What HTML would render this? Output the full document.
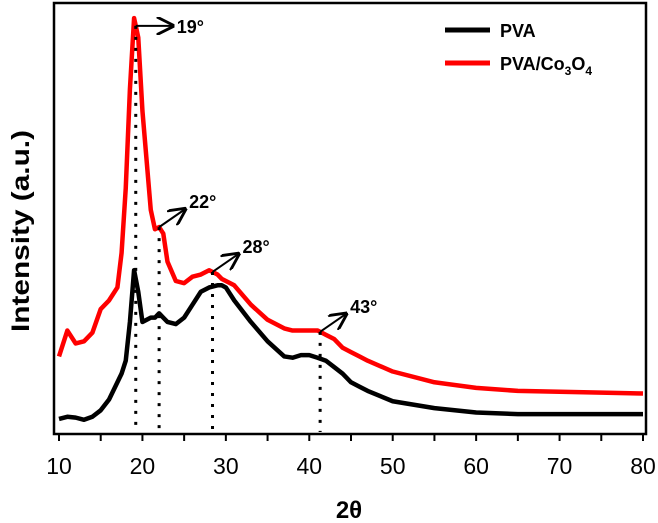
<!DOCTYPE html>
<html><head><meta charset="utf-8"><style>
body{margin:0;background:#fff}
svg{display:block;font-family:"Liberation Sans",sans-serif}
</style></head><body>
<svg id="chart" width="658" height="523" viewBox="0 0 658 523">
<defs><marker id="ah" viewBox="0 0 10 10" refX="9" refY="5" markerWidth="9" markerHeight="9" orient="auto"><path d="M0,0 L10,5 L0,10" fill="none" stroke="#000" stroke-width="1.6"/></marker></defs>
<g id="plot"></g>
<rect x="54" y="3" width="592" height="431" fill="none" stroke="#000" stroke-width="2.5"/>
<g id="xaxis"></g>
<text x="349" y="518" text-anchor="middle" font-size="24" font-weight="bold">2θ</text>
<text transform="translate(29,231) rotate(-90)" text-anchor="middle" font-size="25" font-weight="bold" textLength="202" lengthAdjust="spacingAndGlyphs">Intensity (a.u.)</text>
<g>
<line x1="445" y1="30" x2="490" y2="30" stroke="#000" stroke-width="5"/>
<text x="500" y="37" font-size="18" font-weight="bold">PVA</text>
<line x1="445" y1="63" x2="490" y2="63" stroke="#f00" stroke-width="5"/>
<text x="500" y="70" font-size="18" font-weight="bold">PVA/Co<tspan font-size="12" dy="5">3</tspan><tspan dy="-5">O</tspan><tspan font-size="12" dy="5">4</tspan></text>
</g>
</svg>
<script>
const xs = [10,11,12,13,14,15,16,17,17.5,18,18.5,19,19.5,20,21,21.5,22,22.5,23,24,25,26,27,28,29,29.5,30,31,33,35,37,38,39,40,41,42,43,44,45,46,47,50,55,60,65,70,75,80];
const pva = [0.035,0.04,0.038,0.033,0.04,0.055,0.08,0.12,0.14,0.17,0.26,0.38,0.33,0.26,0.27,0.27,0.28,0.27,0.26,0.255,0.27,0.3,0.33,0.34,0.345,0.345,0.34,0.31,0.26,0.215,0.18,0.177,0.183,0.183,0.177,0.17,0.155,0.14,0.12,0.11,0.1,0.076,0.06,0.05,0.046,0.046,0.046,0.046];
const pvaCo = [0.18,0.24,0.21,0.215,0.235,0.29,0.31,0.34,0.42,0.57,0.8,0.965,0.92,0.75,0.52,0.475,0.48,0.465,0.4,0.355,0.35,0.365,0.37,0.38,0.37,0.36,0.355,0.345,0.3,0.265,0.245,0.24,0.24,0.24,0.24,0.23,0.22,0.2,0.19,0.18,0.17,0.145,0.12,0.107,0.1,0.098,0.096,0.094];
const peaks = [19.2,22,28.4,41.3];
const peakLabels = ["19°","22°","28°","43°"];
const xTicks = [10,20,30,40,50,60,70,80];
const NS="http://www.w3.org/2000/svg";
const X = v => 59 + (v-10)*(643-59)/70;
const Y = v => 434 - v*431;
function interp(arr,x){for(let i=0;i<xs.length-1;i++){if(x>=xs[i]&&x<=xs[i+1]){const t=(x-xs[i])/(xs[i+1]-xs[i]);return arr[i]+t*(arr[i+1]-arr[i]);}}return arr[arr.length-1];}
const plot=document.getElementById('plot');
function mk(tag,attrs,parent){const e=document.createElementNS(NS,tag);for(const k in attrs)e.setAttribute(k,attrs[k]);parent.appendChild(e);return e;}
[[pva,'#000','pva-line'],[pvaCo,'#f00','pva-co3o4-line']].forEach(([arr,c,n])=>{
  const p=mk('polyline',{points:xs.map((x,i)=>X(x)+','+Y(arr[i])).join(' '),fill:'none',stroke:c,'stroke-width':4.5,'stroke-linejoin':'round'},plot);
  
  
});
peaks.forEach((pk,i)=>{
  const px=X(pk), py=Y(interp(pvaCo,pk));
  const l=mk('line',{x1:px,y1:py,x2:px,y2:432,stroke:'#000','stroke-width':3,'stroke-dasharray':'3 8'},plot);
  
  
  const horiz = i===0;
  const x2 = px+(horiz?37:26), y2 = py-(horiz?0:18);
  const a=mk('line',{x1:px,y1:py,x2:x2,y2:y2,stroke:'#000','stroke-width':2,'marker-end':'url(#ah)'},plot);
  
  
  const t=mk('text',{x:x2+4,y:y2+(horiz?7:-1),'font-size':18,'font-weight':'bold'},plot);
  t.textContent=peakLabels[i];
  
  
});
const xa=document.getElementById('xaxis');
for(let v=10;v<=80;v+=5){
  const tk=mk('line',{x1:X(v),y1:434,x2:X(v),y2:441,stroke:'#000','stroke-width':2},xa);
  
  
}
xTicks.forEach(v=>{
  const t=mk('text',{x:X(v),y:474,'text-anchor':'middle','font-size':23},xa);
  t.textContent=v;
  
  
});
</script>
</body></html>
